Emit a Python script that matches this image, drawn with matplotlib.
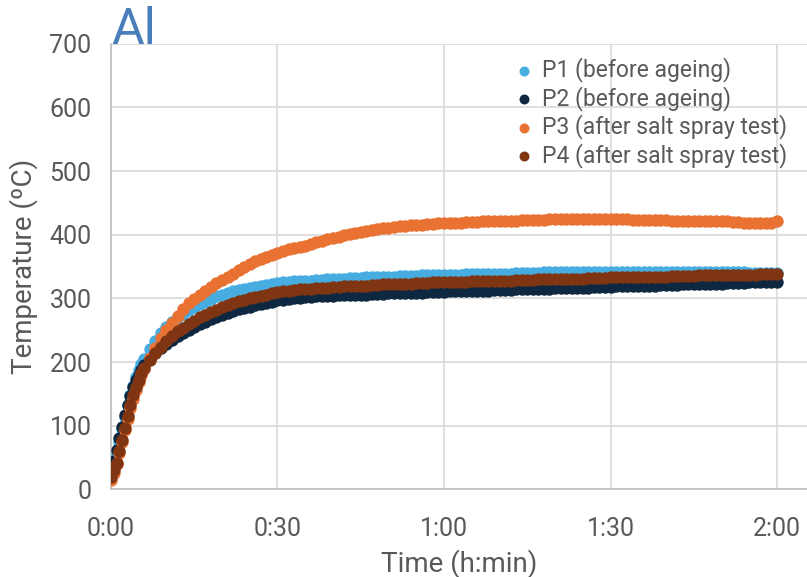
import matplotlib
matplotlib.use("Agg")
import matplotlib.pyplot as plt
from matplotlib.ticker import FuncFormatter, MultipleLocator

plt.rcParams['font.family'] = ['Roboto', 'DejaVu Sans']

# time in minutes: half-minute readings for the first 6 min, then every minute
t_min = [i / 2 for i in range(13)] + list(range(7, 121))

p1 = [25, 38, 55, 75, 95, 114, 132, 148, 163, 176, 187, 197, 205,
      220, 233, 245, 255, 263, 270, 276, 282, 287, 291, 295, 299, 303, 306, 309, 311, 313, 315, 317, 318, 320, 321, 322, 324,
      325, 326, 327, 327, 328, 328, 329, 329, 330, 330, 331, 331, 332, 332, 332, 333, 333, 333, 334, 334, 334, 335, 335, 335, 335, 336, 336, 336, 336, 337,
      337, 337, 337, 338, 338, 338, 338, 339, 339, 339, 339, 339, 340, 340, 340, 340, 340, 341, 341, 341, 341, 341, 341, 341, 342, 342, 342, 342, 342, 342,
      342, 342, 342, 342, 342, 342, 342, 342, 342, 342, 342, 342, 342, 342, 342, 342, 342, 342, 342, 342, 341, 341, 341, 341, 340, 340, 340, 340, 340, 340]

p2 = [30, 45, 62, 80, 98, 116, 132, 147, 160, 171, 180, 188, 195,
      205, 214, 222, 229, 235, 241, 246, 251, 255, 259, 263, 267, 270, 274, 277, 280, 283, 285, 287, 289, 291, 293, 295, 297,
      298, 299, 300, 301, 302, 302, 303, 303, 304, 304, 305, 305, 305, 306, 306, 306, 307, 307, 307, 308, 308, 308, 309, 309, 309, 309, 310, 310, 310, 310,
      311, 311, 311, 311, 312, 312, 312, 312, 313, 313, 313, 313, 314, 314, 314, 314, 315, 315, 315, 316, 316, 316, 316, 317, 317, 317, 318, 318, 318, 318,
      319, 319, 319, 319, 320, 320, 320, 320, 321, 321, 321, 321, 322, 322, 322, 322, 323, 323, 323, 323, 324, 324, 324, 324, 325, 325, 325, 325, 326, 326]

p3 = [15, 26, 40, 57, 75, 93, 110, 127, 142, 156, 168, 179, 189,
      206, 222, 237, 250, 262, 273, 283, 292, 299, 306, 312, 318, 324, 329, 334, 339, 344, 349, 354, 358, 362, 365, 368, 371,
      374, 377, 379, 381, 383, 386, 388, 390, 393, 395, 397, 399, 401, 403, 405, 406, 408, 409, 410, 411, 412, 413, 414, 415, 415, 416, 417, 417, 418, 418,
      419, 419, 419, 420, 420, 420, 421, 421, 421, 422, 422, 422, 422, 423, 423, 423, 423, 423, 424, 424, 424, 424, 424, 424, 424, 424, 424, 424, 424, 424,
      424, 424, 424, 423, 423, 423, 423, 423, 423, 423, 422, 422, 422, 422, 422, 421, 421, 421, 421, 421, 421, 420, 420, 419, 419, 418, 418, 419, 418, 422]

p4 = [20, 30, 42, 60, 78, 97, 115, 132, 148, 161, 172, 182, 190,
      203, 214, 224, 233, 241, 248, 254, 260, 265, 270, 274, 278, 282, 286, 290, 293, 296, 298, 300, 302, 304, 306, 308, 310,
      311, 312, 313, 314, 315, 315, 316, 317, 317, 318, 318, 319, 319, 320, 320, 320, 321, 321, 322, 322, 322, 323, 323, 323, 324, 324, 324, 325, 325, 325,
      325, 326, 326, 326, 327, 327, 327, 327, 328, 328, 328, 328, 329, 329, 329, 329, 330, 330, 330, 330, 331, 331, 331, 331, 331, 332, 332, 332, 332, 333,
      333, 333, 333, 333, 333, 334, 334, 334, 334, 334, 335, 335, 335, 335, 335, 336, 336, 336, 336, 336, 337, 337, 337, 337, 337, 337, 338, 338, 338, 338]

series = [
    ("P1 (before ageing)", p1, "#47ade0"),
    ("P2 (before ageing)", p2, "#0e2841"),
    ("P3 (after salt spray test)", p3, "#e97132"),
    ("P4 (after salt spray test)", p4, "#7f3511"),
]

fig = plt.figure(figsize=(8.07, 5.77), dpi=100)
ax = fig.add_axes([0.1375, 0.152, 0.8625, 0.772])

for name, vals, col in series:
    ax.scatter(t_min, vals, s=80, color=col, linewidths=0, label=name, zorder=3)

ax.set_xlim(0, 125.4)
ax.set_ylim(0, 700)
ax.xaxis.set_major_locator(MultipleLocator(30))
ax.yaxis.set_major_locator(MultipleLocator(100))
ax.xaxis.set_major_formatter(FuncFormatter(lambda v, p: "%d:%02d" % (int(v) // 60, int(v) % 60)))

ax.grid(True, color="#d9d9d9", linewidth=1.2, zorder=0)
ax.set_axisbelow(True)
for side in ["top", "right"]:
    ax.spines[side].set_visible(False)
for side in ["left", "bottom"]:
    ax.spines[side].set_color("#bfbfbf")
    ax.spines[side].set_linewidth(1.2)
ax.tick_params(length=0, labelsize=18, colors="#595959")
ax.tick_params(axis="y", pad=14)
ax.tick_params(axis="x", pad=20)

ax.set_xlabel("Time (h:min)", fontsize=20, color="#595959", labelpad=6)
ax.set_ylabel("Temperature (ºC)", fontsize=20, color="#595959", labelpad=8)
ax.text(0.0, 1.0, "Al", transform=ax.transAxes, fontsize=36, color="#4a7ebb",
        ha="left", va="baseline")

leg = ax.legend(loc="upper right", bbox_to_anchor=(0.985, 0.99), frameon=False,
                fontsize=16.5, handlelength=1.0, handletextpad=0.3, labelspacing=0.15,
                markerscale=0.8, borderaxespad=0)
for txt in leg.get_texts():
    txt.set_color("#595959")

fig.savefig("out.png", dpi=100)
